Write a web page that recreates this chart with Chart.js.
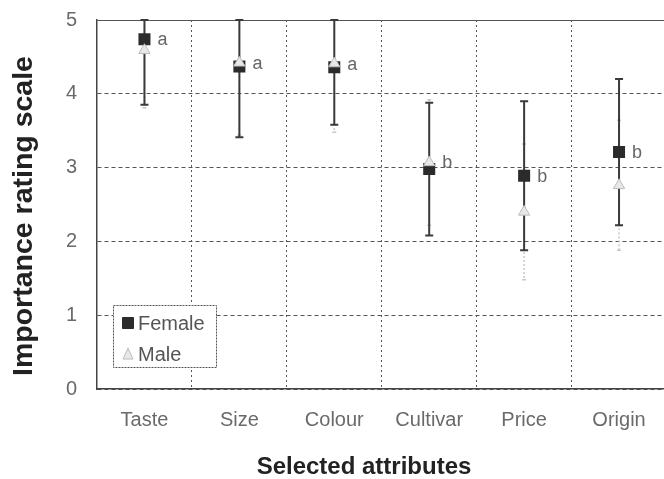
<!DOCTYPE html>
<html>
<head>
<meta charset="utf-8">
<script src="https://cdn.jsdelivr.net/npm/chart.js@4/dist/chart.umd.min.js"></script>
<style>
  html, body { margin: 0; padding: 0; background: #fff; overflow: hidden; }
  #wrap { position: relative; width: 675px; height: 479px; }
</style>
</head>
<body>
<div id="wrap"><canvas id="c"></canvas></div>
<script>
const categories = ['Taste', 'Size', 'Colour', 'Cultivar', 'Price', 'Origin'];
const femaleMeans = [4.74, 4.37, 4.36, 2.98, 2.89, 3.21];
const femaleSD    = [0.89, 0.96, 0.78, 0.90, 1.01, 0.99];
const maleMeans   = [4.59, 4.42, 4.41, 3.07, 2.40, 2.76];
const maleSD      = [0.78, 0.98, 0.93, 0.85, 0.92, 0.88];
const groupLetters = ['a', 'a', 'a', 'b', 'b', 'b'];
const yTickValues = [0, 1, 2, 3, 4, 5];
const yTitle = 'Importance rating scale';
const xTitle = 'Selected attributes';

const FONT = '"Liberation Sans", Arial, Helvetica, sans-serif';

const errorBarPlugin = {
  id: 'errorBars',
  beforeDatasetsDraw(chart) {
    const ctx = chart.ctx;
    const x = chart.scales.x, y = chart.scales.y;
    const lo = y.min, hi = y.max;
    const clamp = v => Math.max(lo, Math.min(hi, v));
    const draw = (means, sds, color, width, dash, cap) => {
      ctx.save();
      ctx.strokeStyle = color;
      ctx.lineWidth = width;
      for (let i = 0; i < means.length; i++) {
        const px = x.getPixelForValue(i);
        const yTop = y.getPixelForValue(clamp(means[i] + sds[i]));
        const yBot = y.getPixelForValue(clamp(means[i] - sds[i]));
        ctx.setLineDash(dash);
        ctx.beginPath();
        ctx.moveTo(px, yTop);
        ctx.lineTo(px, yBot);
        ctx.stroke();
        ctx.setLineDash([]);
        ctx.beginPath();
        ctx.moveTo(px - cap, yTop); ctx.lineTo(px + cap, yTop);
        ctx.moveTo(px - cap, yBot); ctx.lineTo(px + cap, yBot);
        ctx.stroke();
      }
      ctx.restore();
    };
    draw(maleMeans, maleSD, '#c8c8c8', 1.5, [2, 2], 2);
    draw(femaleMeans, femaleSD, '#3a3a3a', 2, [], 4);
  },
  afterDatasetsDraw(chart) {
    const ctx = chart.ctx;
    const x = chart.scales.x, y = chart.scales.y;
    ctx.save();
    ctx.fillStyle = '#666';
    ctx.font = '18px ' + FONT;
    ctx.textAlign = 'left';
    ctx.textBaseline = 'middle';
    for (let i = 0; i < groupLetters.length; i++) {
      const px = x.getPixelForValue(i);
      const v = Math.max(femaleMeans[i], maleMeans[i]);
      ctx.fillText(groupLetters[i], px + 13, y.getPixelForValue(v) + 1);
    }
    ctx.restore();
  },
  afterDraw(chart) {
    const ctx = chart.ctx;
    ctx.save();
    ctx.fillStyle = '#222';
    ctx.font = 'bold 24px ' + FONT;
    ctx.textAlign = 'center';
    ctx.textBaseline = 'middle';
    ctx.fillText(xTitle, 364, 467);
    ctx.translate(24, 216);
    ctx.rotate(-Math.PI / 2);
    ctx.font = 'bold 28.5px ' + FONT;
    ctx.fillText(yTitle, 0, 0);
    ctx.restore();

    // legend box
    const ds = chart.data.datasets;
    const bx = 113, by = 305, bw = 103, bh = 62;
    ctx.save();
    ctx.fillStyle = '#fff';
    ctx.fillRect(bx, by, bw, bh);
    ctx.strokeStyle = '#555';
    ctx.lineWidth = 1;
    ctx.setLineDash([2, 1]);
    ctx.strokeRect(bx + 0.5, by + 0.5, bw, bh);
    ctx.setLineDash([]);
    const rows = [ds[0], ds[1]];
    const rowY = [323, 354];
    rows.forEach((d, i) => {
      ctx.fillStyle = d.backgroundColor;
      ctx.strokeStyle = d.borderColor;
      ctx.lineWidth = 1;
      ctx.beginPath();
      if (d.pointStyle === 'rect') {
        ctx.rect(122.5, rowY[i] - 5.5, 11, 11);
      } else {
        ctx.moveTo(128, rowY[i] - 6);
        ctx.lineTo(133, rowY[i] + 5);
        ctx.lineTo(123, rowY[i] + 5);
        ctx.closePath();
      }
      ctx.fill();
      ctx.stroke();
      ctx.fillStyle = '#555';
      ctx.font = '20px ' + FONT;
      ctx.textAlign = 'left';
      ctx.textBaseline = 'middle';
      ctx.fillText(d.label, 138, rowY[i] + 1);
    });
    ctx.restore();
  }
};

new Chart(document.getElementById('c'), {
  type: 'line',
  data: {
    labels: categories,
    datasets: [
      {
        label: 'Female',
        data: femaleMeans,
        showLine: false,
        pointStyle: 'rect',
        pointRadius: 8.5,
        pointHoverRadius: 8.5,
        backgroundColor: '#2b2b2b',
        borderColor: '#2b2b2b',
        pointBorderWidth: 0,
        order: 1
      },
      {
        label: 'Male',
        data: maleMeans,
        showLine: false,
        pointStyle: 'triangle',
        pointRadius: 6.5,
        pointHoverRadius: 6.5,
        backgroundColor: '#e8e8e8',
        borderColor: '#bcbcbc',
        pointBorderWidth: 1,
        order: 0
      }
    ]
  },
  options: {
    responsive: true,
    maintainAspectRatio: false,
    animation: false,
    layout: { padding: { left: 0, top: 20, right: 5, bottom: 0 } },
    plugins: { legend: { display: false }, tooltip: { enabled: false } },
    scales: {
      x: {
        type: 'category',
        offset: true,
        afterFit(s) { s.height = 90; s.paddingLeft = 0; s.paddingRight = 0; },
        grid: {
          offset: true,
          color: '#555',
          lineWidth: 1,
          drawTicks: false
        },
        border: { display: true, color: '#444', width: 1.5, dash: [2, 3] },
        ticks: {
          color: '#6a6a6a',
          font: { family: FONT, size: 20 },
          padding: 19,
          maxRotation: 0,
          autoSkip: false
        }
      },
      y: {
        min: 0,
        max: 5,
        afterFit(s) { s.width = 97; s.paddingTop = 0; s.paddingBottom = 0; },
        afterBuildTicks(s) { s.ticks = yTickValues.map(v => ({ value: v })); },
        grid: {
          color: '#555',
          lineWidth: 1,
          drawTicks: false
        },
        border: {
          display: true,
          color: '#444',
          width: 1.5,
          dash: ctx => (ctx.tick && ctx.tick.value === 5) ? [] : [4, 3]
        },
        ticks: {
          color: '#6a6a6a',
          font: { family: FONT, size: 20 },
          padding: 20
        }
      }
    }
  },
  plugins: [errorBarPlugin]
});
</script>
</body>
</html>
